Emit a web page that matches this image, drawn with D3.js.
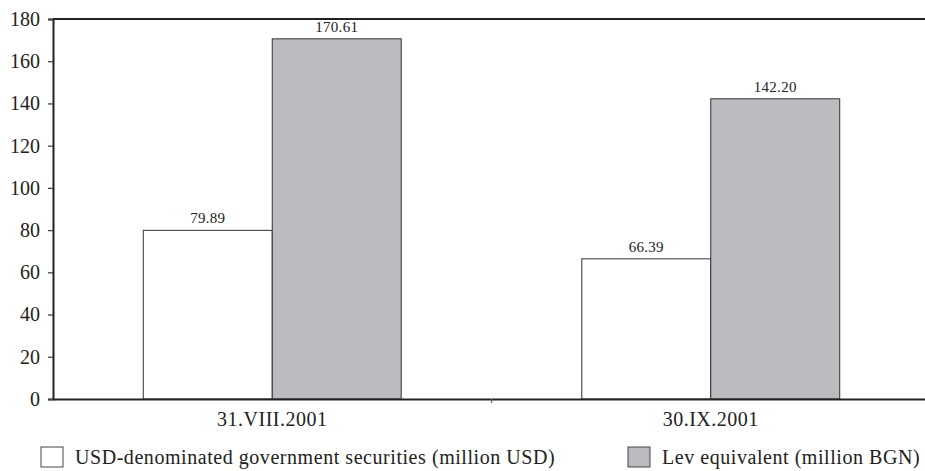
<!DOCTYPE html>
<html><head><meta charset="utf-8">
<script src="https://cdn.jsdelivr.net/npm/d3@7"></script>
<style>
body{margin:0;background:#fff;}
</style></head>
<body><svg id="c" width="925" height="471"></svg>
<script>
const categories = ["31.VIII.2001", "30.IX.2001"];
const seriesNames = ["USD-denominated government securities (million USD)", "Lev equivalent (million BGN)"];
const usdValues = [79.89, 66.39];
const levValues = [170.61, 142.20];
const valueLabels = [["79.89", "170.61"], ["66.39", "142.20"]];
const yTicks = [0, 20, 40, 60, 80, 100, 120, 140, 160, 180];
const colors = ["#ffffff", "#bbbcc0"];
const FONT = '"Liberation Serif", "Times New Roman", serif';

const svg = d3.select("#c");
const m = {left: 53, top: 19, right: 930, bottom: 399};
const y = d3.scaleLinear().domain([0, 180]).range([m.bottom, m.top]);
const x0 = d3.scaleBand().domain(categories).range([m.left, m.right]).padding(0);
const x1 = d3.scaleBand().domain([0, 1]).range([0, x0.bandwidth()]).paddingInner(0).paddingOuter(0.7);

const data = categories.map((c, i) => ({c, vals: [usdValues[i], levValues[i]], labels: valueLabels[i]}));

const g = svg.append("g");
data.forEach(d => {
  d.vals.forEach((v, j) => {
    g.append("rect")
      .attr("x", x0(d.c) + x1(j))
      .attr("y", y(v))
      .attr("width", x1.bandwidth())
      .attr("height", y(0) - y(v))
      .attr("fill", colors[j])
      .attr("stroke", "#333")
      .attr("stroke-width", 1);
    g.append("text")
      .attr("x", x0(d.c) + x1(j) + x1.bandwidth() / 2)
      .attr("y", y(v) - 7)
      .attr("text-anchor", "middle")
      .attr("font-size", 15)
      .attr("fill", "#222")
      .style("font-family", FONT)
      .style("letter-spacing", "0.3px")
      .text(d.labels[j]);
  });
});

svg.append("line").attr("x1", m.left).attr("x2", m.right).attr("y1", m.top).attr("y2", m.top)
  .attr("stroke", "#222").attr("stroke-width", 2);

const ya = svg.append("g").attr("transform", `translate(${m.left},0)`)
  .call(d3.axisLeft(y).tickValues(yTicks).tickSize(5).tickPadding(8));
ya.select(".domain").attr("stroke", "#222").attr("stroke-width", 2);
ya.selectAll(".tick line").attr("stroke", "#444").attr("stroke-width", 1.3);
ya.selectAll("text").attr("font-size", 20).attr("fill", "#222").style("font-family", FONT);

const xa = svg.append("g").attr("transform", `translate(0,${m.bottom})`)
  .call(d3.axisBottom(x0).tickSize(0).tickPadding(13));
xa.select(".domain").attr("stroke", "#222").attr("stroke-width", 2);
xa.selectAll("text").attr("font-size", 20).attr("fill", "#222").style("font-family", FONT)
  .style("letter-spacing", "0.5px");
svg.append("line")
  .attr("x1", x0(categories[1])).attr("x2", x0(categories[1]))
  .attr("y1", m.bottom).attr("y2", m.bottom + 4)
  .attr("stroke", "#666").attr("stroke-width", 1.3);

const legendX = [41, 628];
seriesNames.forEach((n, j) => {
  const lg = svg.append("g").attr("transform", `translate(${legendX[j]},447)`);
  lg.append("rect").attr("x", 0).attr("y", 0).attr("width", 22).attr("height", 20)
    .attr("fill", colors[j]).attr("stroke", "#444").attr("stroke-width", 1);
  lg.append("text").attr("x", 34).attr("y", 17).attr("font-size", 20).attr("fill", "#222")
    .style("font-family", FONT).style("letter-spacing", "0.55px").text(n);
});
</script></body></html>
